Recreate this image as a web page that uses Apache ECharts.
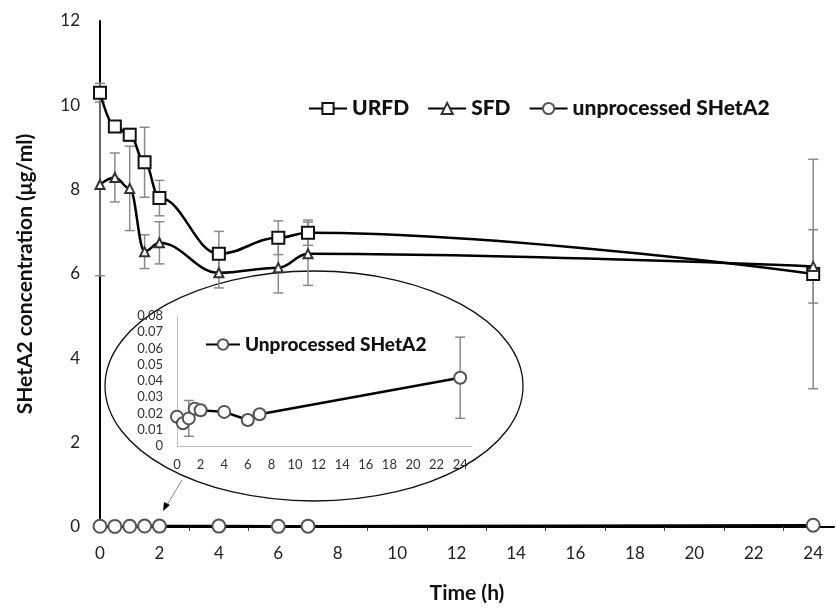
<!DOCTYPE html>
<html>
<head>
<meta charset="utf-8">
<script src="https://cdn.jsdelivr.net/npm/echarts@6/dist/echarts.min.js"></script>
<style>
  html, body { margin: 0; padding: 0; background: #fff; }
  #chart { width: 836px; height: 609px; }
</style>
</head>
<body>
<div id="chart"></div>
<script>
// sampling times (h)
var times = [0, 0.5, 1, 1.5, 2, 4, 6, 7, 24];

// concentrations (ug/ml) and their error bars
var urfd = [10.3, 9.5, 9.3, 8.65, 7.8, 6.48, 6.86, 6.98, 6.0];
var urfdSd = [0.22, 0.1, 0.15, 0.83, 0.42, 0.53, 0.4, 0.3, 2.72];
var sfd = [8.12, 8.29, 8.03, 6.53, 6.74, 6.03, 6.15, 6.48, 6.18];
var sfdSd = [2.16, 0.58, 1.0, 0.4, 0.5, 0.36, 0.6, 0.75, 0.87];
var unproc = [0.018, 0.014, 0.017, 0.023, 0.022, 0.021, 0.016, 0.0195, 0.042];
var unprocSd = [0.002, 0.002, 0.011, 0.003, 0.003, 0.001, 0.003, 0.001, 0.025];

var FONT = 'Lato';

var pairs = function(vals){
    return times.map(function(t, i){ return [t, vals[i]]; });
};
var bars = function(vals, sd){
    return times.map(function(t, i){ return [t, vals[i] - sd[i], vals[i] + sd[i]]; });
};

var errBar = function(params, api){
    var x = api.value(0);
    var top = api.coord([x, api.value(2)]);
    var bot = api.coord([x, api.value(1)]);
    var w = 5;
    var st = {stroke: '#8a8a8a', lineWidth: 1.5};
    return {
        type: 'group',
        children: [
            {type: 'line', shape: {x1: top[0], y1: top[1], x2: bot[0], y2: bot[1]}, style: st},
            {type: 'line', shape: {x1: top[0] - w, y1: top[1], x2: top[0] + w, y2: top[1]}, style: st},
            {type: 'line', shape: {x1: bot[0] - w, y1: bot[1], x2: bot[0] + w, y2: bot[1]}, style: st}
        ]
    };
};

var option = {
    animation: false,
    backgroundColor: '#fff',
    textStyle: {fontFamily: FONT},
    grid: [
        {left: 100, top: 21, right: 2, bottom: 82},
        {left: 177, top: 316, width: 295, height: 130}
    ],
    legend: [
        {
            data: ['URFD', 'SFD', 'unprocessed SHetA2'],
            left: 303, top: 93,
            itemGap: 18, itemWidth: 38, itemHeight: 14,
            textStyle: {fontFamily: FONT, fontWeight: 900, fontSize: 21, color: '#111'}
        },
        {
            data: ['Unprocessed SHetA2'],
            left: 200, top: 330,
            itemWidth: 34, itemHeight: 13,
            textStyle: {fontFamily: FONT, fontWeight: 900, fontSize: 19, color: '#111'}
        }
    ],
    xAxis: [
        {
            type: 'value', gridIndex: 0, min: 0, max: 24.7, interval: 2,
            name: 'Time (h)', nameLocation: 'middle', nameGap: 56,
            nameTextStyle: {fontFamily: FONT, fontWeight: 'bold', fontSize: 21, color: '#111'},
            axisLine: {lineStyle: {color: '#000', width: 2}},
            axisTick: {show: false},
            minorTick: {show: true, splitNumber: 2, length: 4, lineStyle: {color: '#444'}},
            splitLine: {show: false},
            axisLabel: {showMaxLabel: false, fontSize: 17, color: '#222', margin: 18}
        },
        {
            type: 'value', gridIndex: 1, min: 0, max: 25, interval: 2,
            axisLine: {lineStyle: {color: '#bdbdbd', width: 1}},
            axisTick: {show: false},
            splitLine: {show: false},
            axisLabel: {showMaxLabel: false, fontSize: 13, color: '#333', margin: 12}
        }
    ],
    yAxis: [
        {
            type: 'value', gridIndex: 0, min: 0, max: 12, interval: 2,
            name: 'SHetA2 concentration (\u03bcg/ml)', nameLocation: 'middle', nameGap: 64,
            nameTextStyle: {fontFamily: FONT, fontWeight: 'bold', fontSize: 21, color: '#111'},
            axisLine: {show: true, lineStyle: {color: '#000', width: 2}},
            axisTick: {show: false},
            splitLine: {show: false},
            axisLabel: {fontSize: 17, color: '#222', margin: 20}
        },
        {
            type: 'value', gridIndex: 1, min: 0, max: 0.08, interval: 0.01,
            axisLine: {show: true, lineStyle: {color: '#bdbdbd', width: 1}},
            axisTick: {show: false},
            splitLine: {show: false},
            axisLabel: {fontSize: 13, color: '#333', margin: 14}
        }
    ],
    series: [
        {
            type: 'custom', name: 'urfd-err', xAxisIndex: 0, yAxisIndex: 0, z: 1, silent: true,
            renderItem: errBar, encode: {x: 0, y: [1, 2]}, data: bars(urfd, urfdSd)
        },
        {
            type: 'custom', name: 'sfd-err', xAxisIndex: 0, yAxisIndex: 0, z: 1, silent: true,
            renderItem: errBar, encode: {x: 0, y: [1, 2]}, data: bars(sfd, sfdSd)
        },
        {
            type: 'custom', name: 'inset-err', xAxisIndex: 1, yAxisIndex: 1, z: 1, silent: true,
            renderItem: errBar, encode: {x: 0, y: [1, 2]}, data: bars(unproc, unprocSd)
        },
        {
            name: 'URFD', type: 'line', xAxisIndex: 0, yAxisIndex: 0,
            smooth: 0.4, smoothMonotone: 'x', symbol: 'emptyRect', symbolSize: 12,
            lineStyle: {color: '#000', width: 2.5},
            itemStyle: {color: '#111', borderWidth: 1.5},
            data: pairs(urfd)
        },
        {
            name: 'SFD', type: 'line', xAxisIndex: 0, yAxisIndex: 0,
            smooth: 0.4, smoothMonotone: 'x', symbol: 'emptyTriangle', symbolSize: 9,
            lineStyle: {color: '#000', width: 2.5},
            itemStyle: {color: '#333', borderWidth: 1.2},
            data: pairs(sfd)
        },
        {
            name: 'unprocessed SHetA2', type: 'line', xAxisIndex: 0, yAxisIndex: 0,
            symbol: 'emptyCircle', symbolSize: 13,
            lineStyle: {color: '#000', width: 2.5},
            itemStyle: {color: '#555', borderWidth: 1.5},
            data: pairs(unproc)
        },
        {
            name: 'Unprocessed SHetA2', type: 'line', xAxisIndex: 1, yAxisIndex: 1,
            symbol: 'emptyCircle', symbolSize: 12,
            lineStyle: {color: '#000', width: 2.5},
            itemStyle: {color: '#555', borderWidth: 1.5},
            data: pairs(unproc)
        }
    ],
    // callout ellipse round the inset and the arrow to the zero line
    graphic: [
        {
            type: 'ellipse', z: 0,
            shape: {cx: 314, cy: 386, rx: 209, ry: 115},
            style: {fill: 'none', stroke: '#111', lineWidth: 1.3}
        },
        {
            type: 'line',
            shape: {x1: 182, y1: 480, x2: 167, y2: 505},
            style: {stroke: '#888', lineWidth: 1}
        },
        {
            type: 'polygon',
            shape: {points: [[163, 511], [164, 502], [170, 505]]},
            style: {fill: '#000'}
        }
    ]
};

var myChart = echarts.init(document.getElementById('chart'));
myChart.setOption(option);
</script>
</body>
</html>
